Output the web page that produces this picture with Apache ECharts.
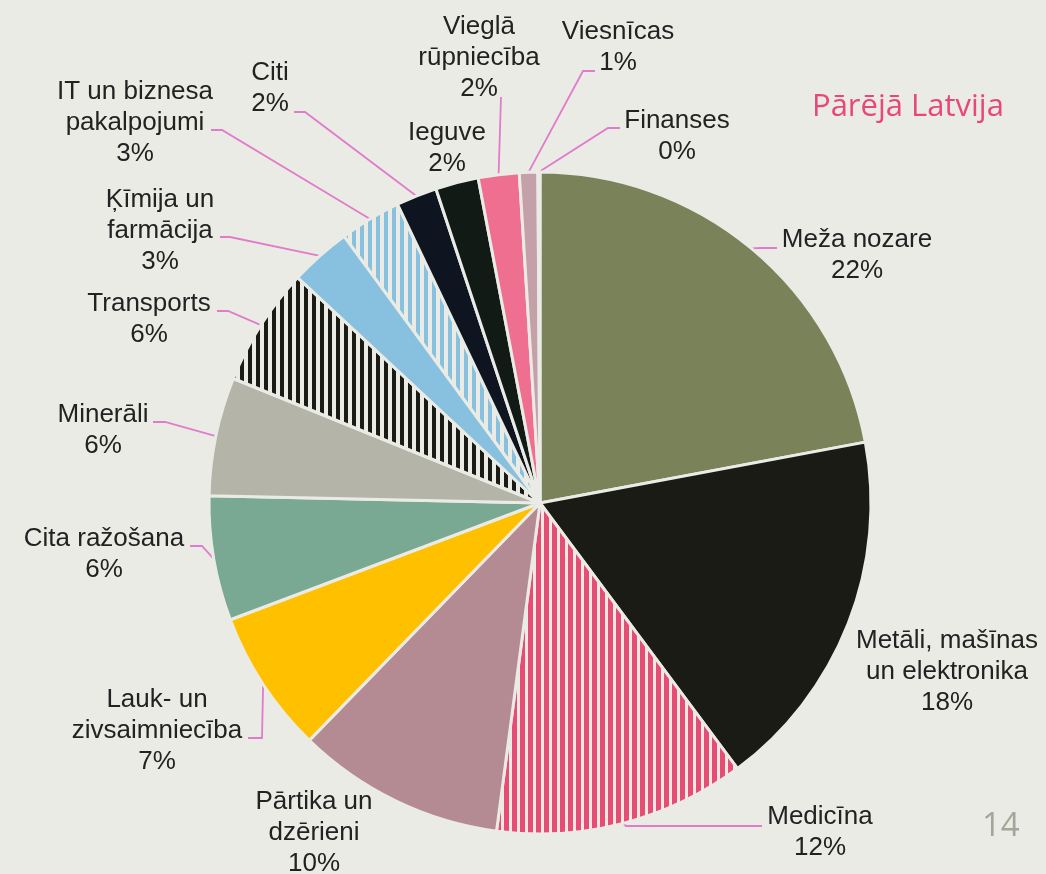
<!DOCTYPE html>
<html>
<head>
<meta charset="utf-8">
<script src="https://cdn.jsdelivr.net/npm/echarts@6/dist/echarts.min.js"></script>
<style>
  html, body { margin: 0; padding: 0; background: #ebebe6; }
  #chart { width: 1046px; height: 874px; }
</style>
</head>
<body>
<div id="chart"></div>
<script>
const categories = [
  'Meža nozare', 'Metāli, mašīnas\nun elektronika', 'Medicīna', 'Pārtika un\ndzērieni',
  'Lauk- un\nzivsaimniecība', 'Cita ražošana', 'Minerāli', 'Transports',
  'Ķīmija un\nfarmācija', 'IT un biznesa\npakalpojumi', 'Citi', 'Ieguve',
  'Vieglā\nrūpniecība', 'Viesnīcas', 'Finanses',
];
const values = [22.1, 17.8, 12.3, 10.2, 7.0, 6.1, 5.8, 5.8, 3.0, 3.0, 2.0, 2.1, 2.0, 0.9, 0.1];
const total = values.reduce((a, b) => a + b, 0);

const BG = '#ebebe6';

// vertical hatch like the office pattern fills
const stripes = (color, band) => {
  const c = document.createElement('canvas');
  c.width = 8;
  c.height = 8;
  const ctx = c.getContext('2d');
  ctx.fillStyle = BG;
  ctx.fillRect(0, 0, 8, 8);
  ctx.fillStyle = color;
  ctx.fillRect(0, 0, band, 8);
  return { image: c, repeat: 'repeat' };
};

const sliceColors = [
  '#7a8259', '#1b1b16', stripes('#e84c75', 5), '#b48a93',
  '#ffc000', '#79a893', '#b4b4a8', stripes('#1b1b16', 4),
  '#88c0df', stripes('#88c0df', 4), '#0f1520', '#121a16',
  '#ee6f8f', '#c4a0a8', '#8e9fb0',
];

// label centre x/y, leader bend x/y, leader end x (short entries: no leader)
const labelSpots = [
  [857, 255, 760, 248, 777],
  [947, 672],
  [820, 832, 626, 826, 762],
  [314, 833],
  [157, 731, 262, 738, 248],
  [104, 554, 202, 546, 190],
  [103, 430, 165, 422, 153],
  [149, 319, 228, 311, 217],
  [160, 231, 230, 237, 220],
  [135, 123, 222, 130, 211],
  [270, 88, 305, 112, 294],
  [447, 148],
  [479, 58, 501, 97, 501],
  [618, 47, 583, 71, 595],
  [677, 136, 608, 128, 620],
];

const chart = echarts.init(document.getElementById('chart'));

chart.setOption({
  backgroundColor: BG,
  animation: false,
  graphic: [
    {
      type: 'text',
      left: 812,
      top: 92,
      style: {
        text: 'Pārējā Latvija',
        fill: '#e84878',
        font: '31px "Open Sans", "Noto Sans", sans-serif',
      },
    },
    {
      type: 'text',
      left: 982,
      top: 810,
      style: {
        text: '14',
        fill: '#a3a698',
        font: '33px "Open Sans", "Noto Sans", sans-serif',
      },
    },
  ],
  series: [
    {
      type: 'pie',
      center: [540, 503],
      radius: 331,
      startAngle: 90,
      clockwise: true,
      avoidLabelOverlap: false,
      emphasis: { disabled: true },
      itemStyle: {
        borderColor: BG,
        borderWidth: 3,
      },
      label: {
        show: true,
        position: 'outside',
        color: '#222',
        fontFamily: '"Liberation Sans", Arial, sans-serif',
        fontSize: 26,
        lineHeight: 31,
        width: 260,
        overflow: 'none',
        align: 'center',
        formatter: p => `${p.name}\n${Math.round(p.value / total * 100)}%`,
      },
      labelLine: {
        show: true,
        length: 10,
        length2: 10,
        smooth: false,
        lineStyle: { color: '#e07ccb', width: 1.8 },
      },
      labelLayout: (p) => {
        const s = labelSpots[p.dataIndex];
        const out = {
          x: s[0], y: s[1], align: 'center', verticalAlign: 'middle',
        };
        if (s.length > 2 && p.labelLinePoints) {
          out.labelLinePoints = [p.labelLinePoints[0], [s[2], s[3]], [s[4], s[3]]];
        }
        return out;
      },
      data: categories.map((name, i) => ({
        name,
        value: values[i],
        itemStyle: { color: sliceColors[i] },
        labelLine: { show: labelSpots[i].length > 2 },
      })),
    },
  ],
});
</script>
</body>
</html>
